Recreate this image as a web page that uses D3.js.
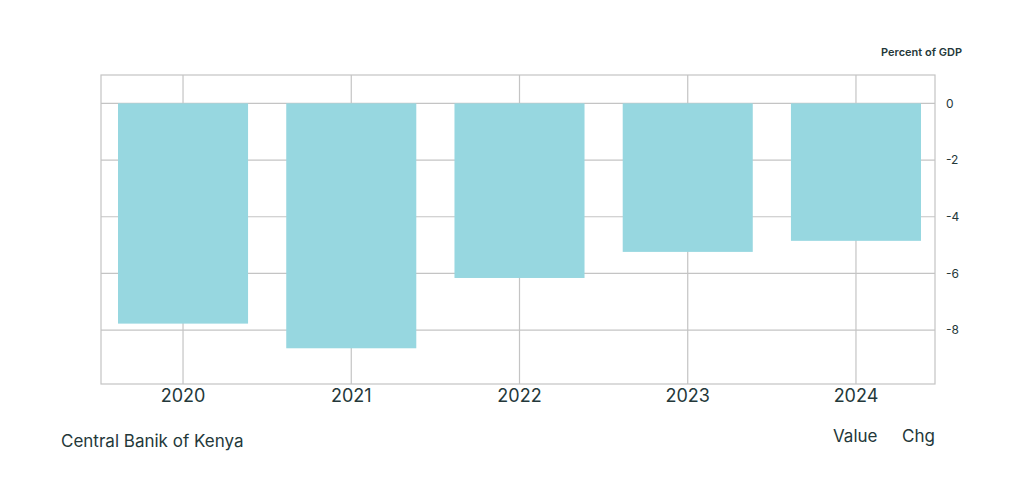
<!DOCTYPE html>
<meta charset="utf-8">
<style>
  body { margin: 0; background: #fff; }
  svg text { font-family: Inter, "Noto Sans", sans-serif; fill: #24383a; }
</style>
<body>
<svg class="chart" width="1024" height="498"></svg>
<script src="https://cdn.jsdelivr.net/npm/d3@7"></script>
<script>

// Data: budget balance, percent of GDP
var years = ["2020", "2021", "2022", "2023", "2024"];
var values = [-7.77, -8.64, -6.16, -5.24, -4.85];
var yTicks = [0, -2, -4, -6, -8];

var frame = { left: 101, right: 935, top: 75, bottom: 384 };

var svg = d3.select(".chart");

// Scales
var x = d3.scaleBand()
    .domain(years)
    .range([99, 940])
    .paddingInner(0.227)
    .paddingOuter(0.113);

var y = d3.scaleLinear()
    .domain([-9.9, 1])
    .range([frame.bottom, frame.top]);

// Frame
svg.append("rect")
    .attr("x", frame.left)
    .attr("y", frame.top)
    .attr("width", frame.right - frame.left)
    .attr("height", frame.bottom - frame.top)
    .attr("fill", "none")
    .attr("stroke", "#c4c4c4")
    .attr("stroke-width", 1.2);

// Horizontal grid
svg.append("g")
  .selectAll("line")
  .data(yTicks)
  .enter().append("line")
    .attr("x1", frame.left)
    .attr("x2", frame.right)
    .attr("y1", function(d) { return y(d); })
    .attr("y2", function(d) { return y(d); })
    .attr("stroke", "#c4c4c4")
    .attr("stroke-width", 1.2);

// Vertical grid at category centres
svg.append("g")
  .selectAll("line")
  .data(years)
  .enter().append("line")
    .attr("x1", function(d) { return x(d) + x.bandwidth() / 2; })
    .attr("x2", function(d) { return x(d) + x.bandwidth() / 2; })
    .attr("y1", frame.top)
    .attr("y2", frame.bottom)
    .attr("stroke", "#c4c4c4")
    .attr("stroke-width", 1.2);

// Bars
svg.append("g")
  .selectAll("rect")
  .data(values)
  .enter().append("rect")
    .attr("x", function(d, i) { return x(years[i]); })
    .attr("width", x.bandwidth())
    .attr("y", function(d) { return y(Math.max(0, d)); })
    .attr("height", function(d) { return Math.abs(y(d) - y(0)); })
    .attr("fill", "#97d7e0");

// Right-hand axis labels (plain hyphen for minus, as in the source)
var yAxis = d3.axisRight(y)
    .tickValues(yTicks)
    .tickSize(0)
    .tickPadding(0)
    .tickFormat(function(d) { return String(d); });

var ya = svg.append("g")
    .attr("transform", "translate(946,0)")
    .call(yAxis);
ya.select(".domain").remove();
ya.selectAll("text")
    .style("font-size", "12px")
    .attr("fill", "#24383a");

// Bottom axis labels
var xAxis = d3.axisBottom(x).tickSize(0).tickPadding(0);
var xa = svg.append("g")
    .attr("transform", "translate(0," + (frame.bottom + 5) + ")")
    .call(xAxis);
xa.select(".domain").remove();
xa.selectAll("text")
    .style("font-size", "18px")
    .attr("fill", "#24383a");

// Unit label
svg.append("text")
    .attr("x", 962)
    .attr("y", 56)
    .attr("text-anchor", "end")
    .style("font-size", "11px")
    .style("font-weight", "600")
    .text("Percent of GDP");

// Source
svg.append("text")
    .attr("x", 61)
    .attr("y", 447)
    .style("font-size", "17px")
    .text("Central Banik of Kenya");

// Footer legend text
svg.append("text")
    .attr("x", 833)
    .attr("y", 442)
    .style("font-size", "17px")
    .text("Value");

svg.append("text")
    .attr("x", 935)
    .attr("y", 442)
    .attr("text-anchor", "end")
    .style("font-size", "17px")
    .text("Chg");

</script>
</body>
